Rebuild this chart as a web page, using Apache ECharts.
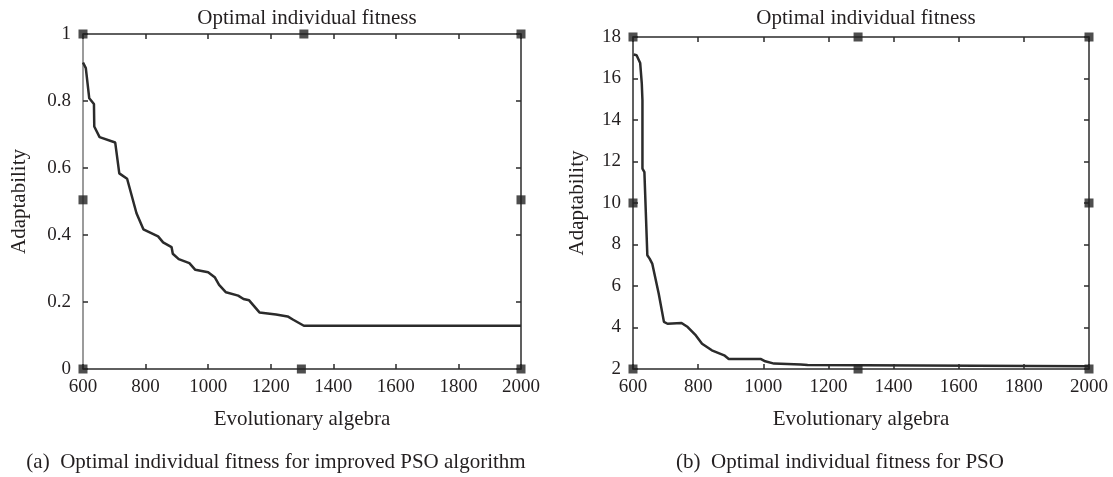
<!DOCTYPE html>
<html>
<head>
<meta charset="utf-8">
<script src="https://cdn.jsdelivr.net/npm/echarts@6/dist/echarts.min.js"></script>
<style>
  html, body { margin: 0; padding: 0; background: #fff; }
  #chart { width: 1113px; height: 477px; }
</style>
</head>
<body>
<div id="chart"></div>
<script>
// (a) improved PSO
const genImproved = [600, 609, 620, 635, 636, 653, 703, 716, 741, 771, 793, 840, 856, 883, 887, 906, 940, 959, 1000, 1021, 1035, 1057, 1096, 1113, 1131, 1164, 1217, 1254, 1272, 1306, 2000];
const fitImproved = [0.915, 0.898, 0.808, 0.791, 0.724, 0.692, 0.676, 0.584, 0.568, 0.465, 0.417, 0.396, 0.378, 0.364, 0.344, 0.328, 0.316, 0.296, 0.289, 0.274, 0.251, 0.229, 0.219, 0.209, 0.205, 0.169, 0.163, 0.157, 0.147, 0.129, 0.129];

// (b) PSO
const genPso = [602, 611, 622, 627, 629, 629, 635, 640, 644, 651, 659, 679, 695, 706, 749, 768, 793, 812, 842, 880, 894, 993, 1006, 1033, 1115, 1136, 2000];
const fitPso = [17.16, 17.12, 16.75, 15.75, 14.95, 11.66, 11.49, 11.41, 7.48, 7.32, 7.08, 5.63, 4.27, 4.18, 4.22, 4.02, 3.62, 3.22, 2.90, 2.66, 2.48, 2.48, 2.37, 2.26, 2.22, 2.19, 2.13];

// square markers on the frame
const markImprovedX = [600, 1306, 2000, 600, 2000, 600, 1298, 2000];
const markImprovedY = [1, 1, 1, 0.505, 0.505, 0, 0, 0];
const markPsoX = [600, 1291, 2000, 600, 2000, 600, 1291, 2000];
const markPsoY = [18, 18, 18, 10, 10, 2, 2, 2];

const titleText = 'Optimal individual fitness';
const xName = 'Evolutionary algebra';
const yName = 'Adaptability';
const captionA = '(a)  Optimal individual fitness for improved PSO algorithm';
const captionB = '(b)  Optimal individual fitness for PSO';

const FONT = 'Liberation Serif';
const TXT = '#231f20';
const DARK = '#2b2b2b';

const zip = (xs, ys) => xs.map((x, i) => [x, ys[i]]);

function xAxes(grid, nameGap) {
  const base = {
    gridIndex: grid, type: 'value', min: 600, max: 2000, interval: 200,
    axisLine: { show: true, onZero: false, lineStyle: { color: DARK, width: 1.5 } },
    axisTick: { show: true, inside: true, length: 5, lineStyle: { color: DARK, width: 1.5 } },
    splitLine: { show: false }
  };
  return [
    Object.assign({}, base, {
      position: 'bottom',
      name: xName, nameLocation: 'middle', nameGap: nameGap,
      nameTextStyle: { fontFamily: FONT, fontSize: 21, color: TXT },
      axisLabel: { fontFamily: FONT, fontSize: 19, color: TXT, margin: 9,
        formatter: v => String(v) }
    }),
    Object.assign({}, base, { position: 'top', axisLabel: { show: false } })
  ];
}

function yAxes(grid, min, max, interval, nameGap, leftColor) {
  const base = {
    gridIndex: grid, type: 'value', min: min, max: max, interval: interval,
    axisLine: { show: true, onZero: false, lineStyle: { color: DARK, width: 1.5 } },
    axisTick: { show: true, inside: true, length: 5, lineStyle: { color: DARK, width: 1.5 } },
    splitLine: { show: false }
  };
  return [
    Object.assign({}, base, {
      position: 'left',
      axisLine: { show: true, onZero: false, lineStyle: { color: leftColor, width: 1.5 } },
      name: yName, nameLocation: 'middle', nameGap: nameGap,
      nameTextStyle: { fontFamily: FONT, fontSize: 21, color: TXT },
      axisLabel: { fontFamily: FONT, fontSize: 19, color: TXT, margin: 12 }
    }),
    Object.assign({}, base, { position: 'right', axisLabel: { show: false } })
  ];
}

const chart = echarts.init(document.getElementById('chart'));
chart.setOption({
  animation: false,
  backgroundColor: '#fff',
  title: [
    { text: titleText, left: 302, top: 3, textAlign: 'center',
      textStyle: { fontFamily: FONT, fontSize: 21, fontWeight: 'normal', color: TXT } },
    { text: titleText, left: 861, top: 3, textAlign: 'center',
      textStyle: { fontFamily: FONT, fontSize: 21, fontWeight: 'normal', color: TXT } },
    { text: captionA, left: 271, top: 447, textAlign: 'center',
      textStyle: { fontFamily: FONT, fontSize: 21, fontWeight: 'normal', color: TXT } },
    { text: captionB, left: 835, top: 447, textAlign: 'center',
      textStyle: { fontFamily: FONT, fontSize: 21, fontWeight: 'normal', color: TXT } }
  ],
  grid: [
    { left: 83, right: 592, top: 34, bottom: 108 },
    { left: 633, right: 24, top: 37, bottom: 108 }
  ],
  xAxis: xAxes(0, 40).concat(xAxes(1, 40)),
  yAxis: yAxes(0, 0, 1, 0.2, 53, '#7a7a7a').concat(yAxes(1, 2, 18, 2, 45, DARK)),
  series: [
    {
      type: 'line', xAxisIndex: 0, yAxisIndex: 0,
      data: zip(genImproved, fitImproved),
      showSymbol: false, lineStyle: { color: DARK, width: 2.5 }
    },
    {
      type: 'line', xAxisIndex: 2, yAxisIndex: 2,
      data: zip(genPso, fitPso),
      showSymbol: false, lineStyle: { color: DARK, width: 2.5 }
    },
    {
      type: 'scatter', xAxisIndex: 0, yAxisIndex: 0, clip: false, z: 5,
      data: zip(markImprovedX, markImprovedY),
      symbol: 'rect', symbolSize: 9, itemStyle: { color: '#222' }
    },
    {
      type: 'scatter', xAxisIndex: 2, yAxisIndex: 2, clip: false, z: 5,
      data: zip(markPsoX, markPsoY),
      symbol: 'rect', symbolSize: 9, itemStyle: { color: '#222' }
    }
  ]
});
</script>
</body>
</html>
